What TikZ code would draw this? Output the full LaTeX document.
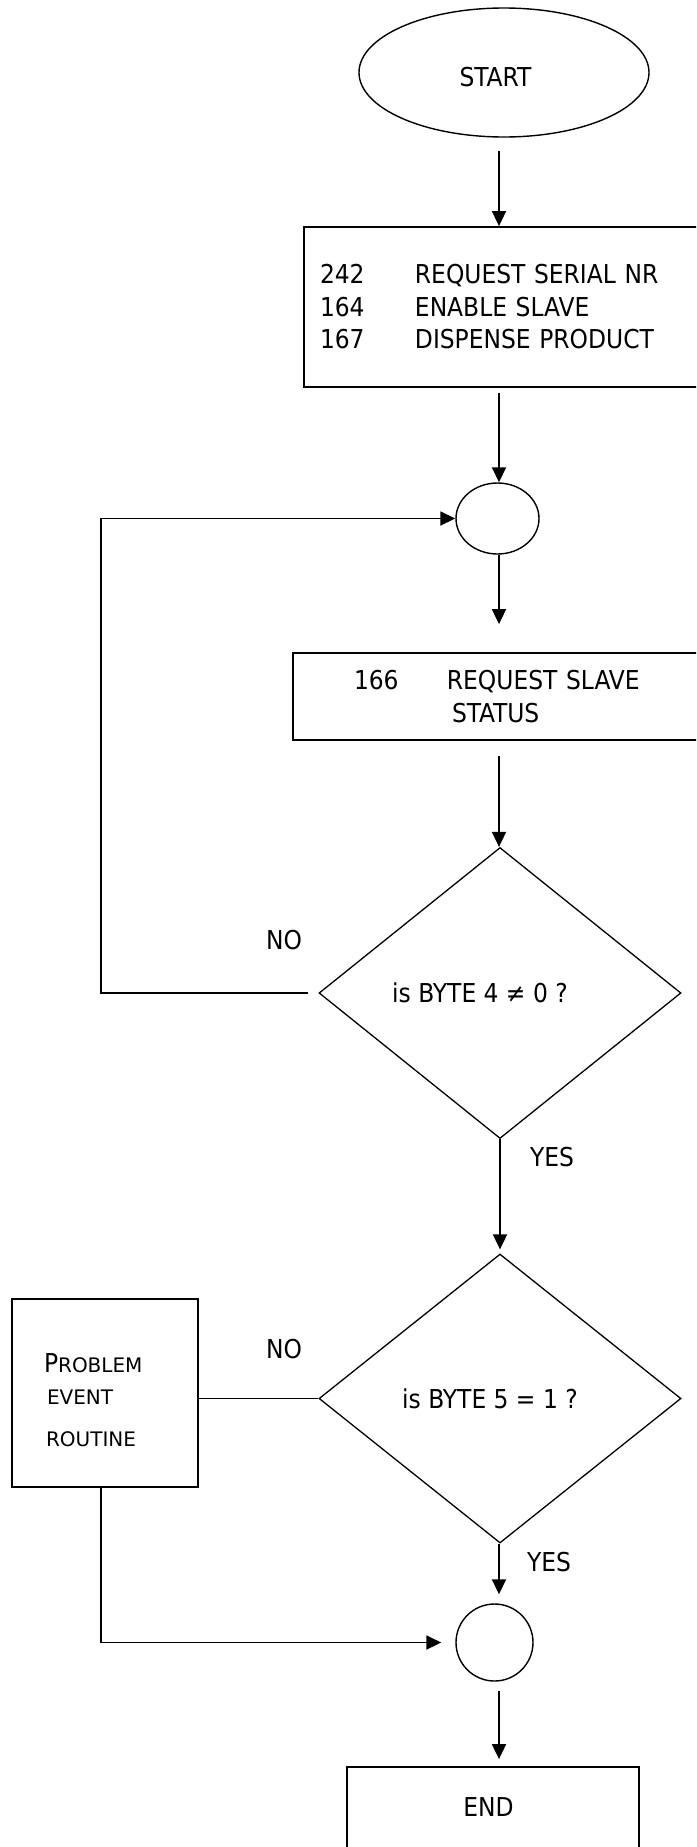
\documentclass[tikz,border=0pt]{standalone}
\usepackage{fontspec}
\setmainfont{DejaVu Sans Condensed}
\newfontfamily\widefont{DejaVu Sans}
\usetikzlibrary{arrows.meta, positioning, shapes.geometric}

\newcommand{\smallcap}[1]{{\widefont\fontsize{20}{22}\selectfont #1}}

\begin{document}
\begin{tikzpicture}[x=1pt, y=-1pt,
    every node/.style={font=\fontsize{26}{32.5}\selectfont, inner sep=0pt},
    flowbox/.style={draw, line width=1.8pt, rectangle},
    joint/.style={draw, line width=1.4pt, ellipse},
    decide/.style={draw, line width=1.3pt, diamond, minimum width=362pt, minimum height=291pt},
    flow/.style={line width=1.8pt, -{Triangle[length=15pt, width=14pt]}},
    plain/.style={line width=1.8pt}]
  \useasboundingbox (0,0) rectangle (696,1847);
  \clip (0,0) rectangle (696,1847);
  \coordinate (axis) at (499,0);
  \coordinate (loopx) at (101,0);
  % start, first commands
  \node[joint, minimum width=290pt, minimum height=129pt] (start) at (504,72.5)
    {\rule{0pt}{29pt}START\hspace*{17pt}};
  \node[flowbox, minimum height=160pt, text width=384pt, align=left, inner xsep=16pt] (cmds) at (512,307)
    {\makebox[95pt][l]{242}REQUEST SERIAL NR\\
     \makebox[95pt][l]{164}ENABLE SLAVE\\
     \makebox[95pt][l]{167}DISPENSE PRODUCT};
  \node[joint, minimum width=83pt, minimum height=71pt] (c1) at (497.5,518.5) {};
  \node[flowbox, minimum height=87pt, text width=305pt, align=left, inner xsep=61pt] (sts) at (506.5,696.5)
    {\makebox[93pt][l]{166}REQUEST SLAVE\\ \hspace*{98pt}STATUS};
  % decisions
  \node[decide] (q1) at (500,993) {is BYTE 4 ≠ 0 ?\hspace*{40pt}};
  \node[decide, minimum height=289pt] (q2) at (500,1398.5) {is BYTE 5 = 1 ?\hspace*{20pt}};
  \node (no1) at (284,940) {NO};
  \node (yes1) at (552,1157) {YES};
  \node (no2) at (284,1349) {NO};
  \node (yes2) at (549,1562) {YES};
  \node[flowbox, minimum height=188pt, text width=122pt, align=left, inner xsep=32pt] (pe) at (105,1393)
    {\rule{0pt}{33pt}P\smallcap{ROBLEM}\\ \hspace*{3pt}\smallcap{EVENT}\\[9pt] \hspace*{2pt}\smallcap{ROUTINE}};
  % end
  \node[joint, minimum width=77pt, minimum height=77pt] (c2) at (494.5,1642.5) {};
  \node[flowbox, minimum width=292pt, minimum height=93pt, text depth=14pt] (fin) at (493,1813.5)
    {END\hspace*{9pt}};
  % connectors
  \draw[flow, shorten <=13pt] (start.south -| axis) -- (cmds.north -| axis);
  \draw[flow, shorten <=5pt] (cmds.south -| axis) -- (c1.north -| axis);
  \draw[flow, shorten >=28pt] (c1.south -| axis) -- (sts.north -| axis);
  \draw[flow, shorten <=15pt] (sts.south -| axis) -- (q1.north -| axis);
  \draw[flow, shorten >=4pt] (q1.south) -- (q2.north);
  \draw[flow, shorten >=9pt] (q2.south -| axis) -- (c2.north -| axis);
  \draw[flow, shorten <=9pt, shorten >=7pt] (c2.south -| axis) -- (fin.north -| axis);
  \draw[flow, shorten <=10pt] (q1.west) -- (q1.west -| loopx) |- (c1.west);
  \draw[plain] (q2.west) -- (q2.west -| pe.east);
  \draw[flow, shorten >=14pt] (pe.south -| loopx) |- (c2.west);
\end{tikzpicture}
\end{document}
